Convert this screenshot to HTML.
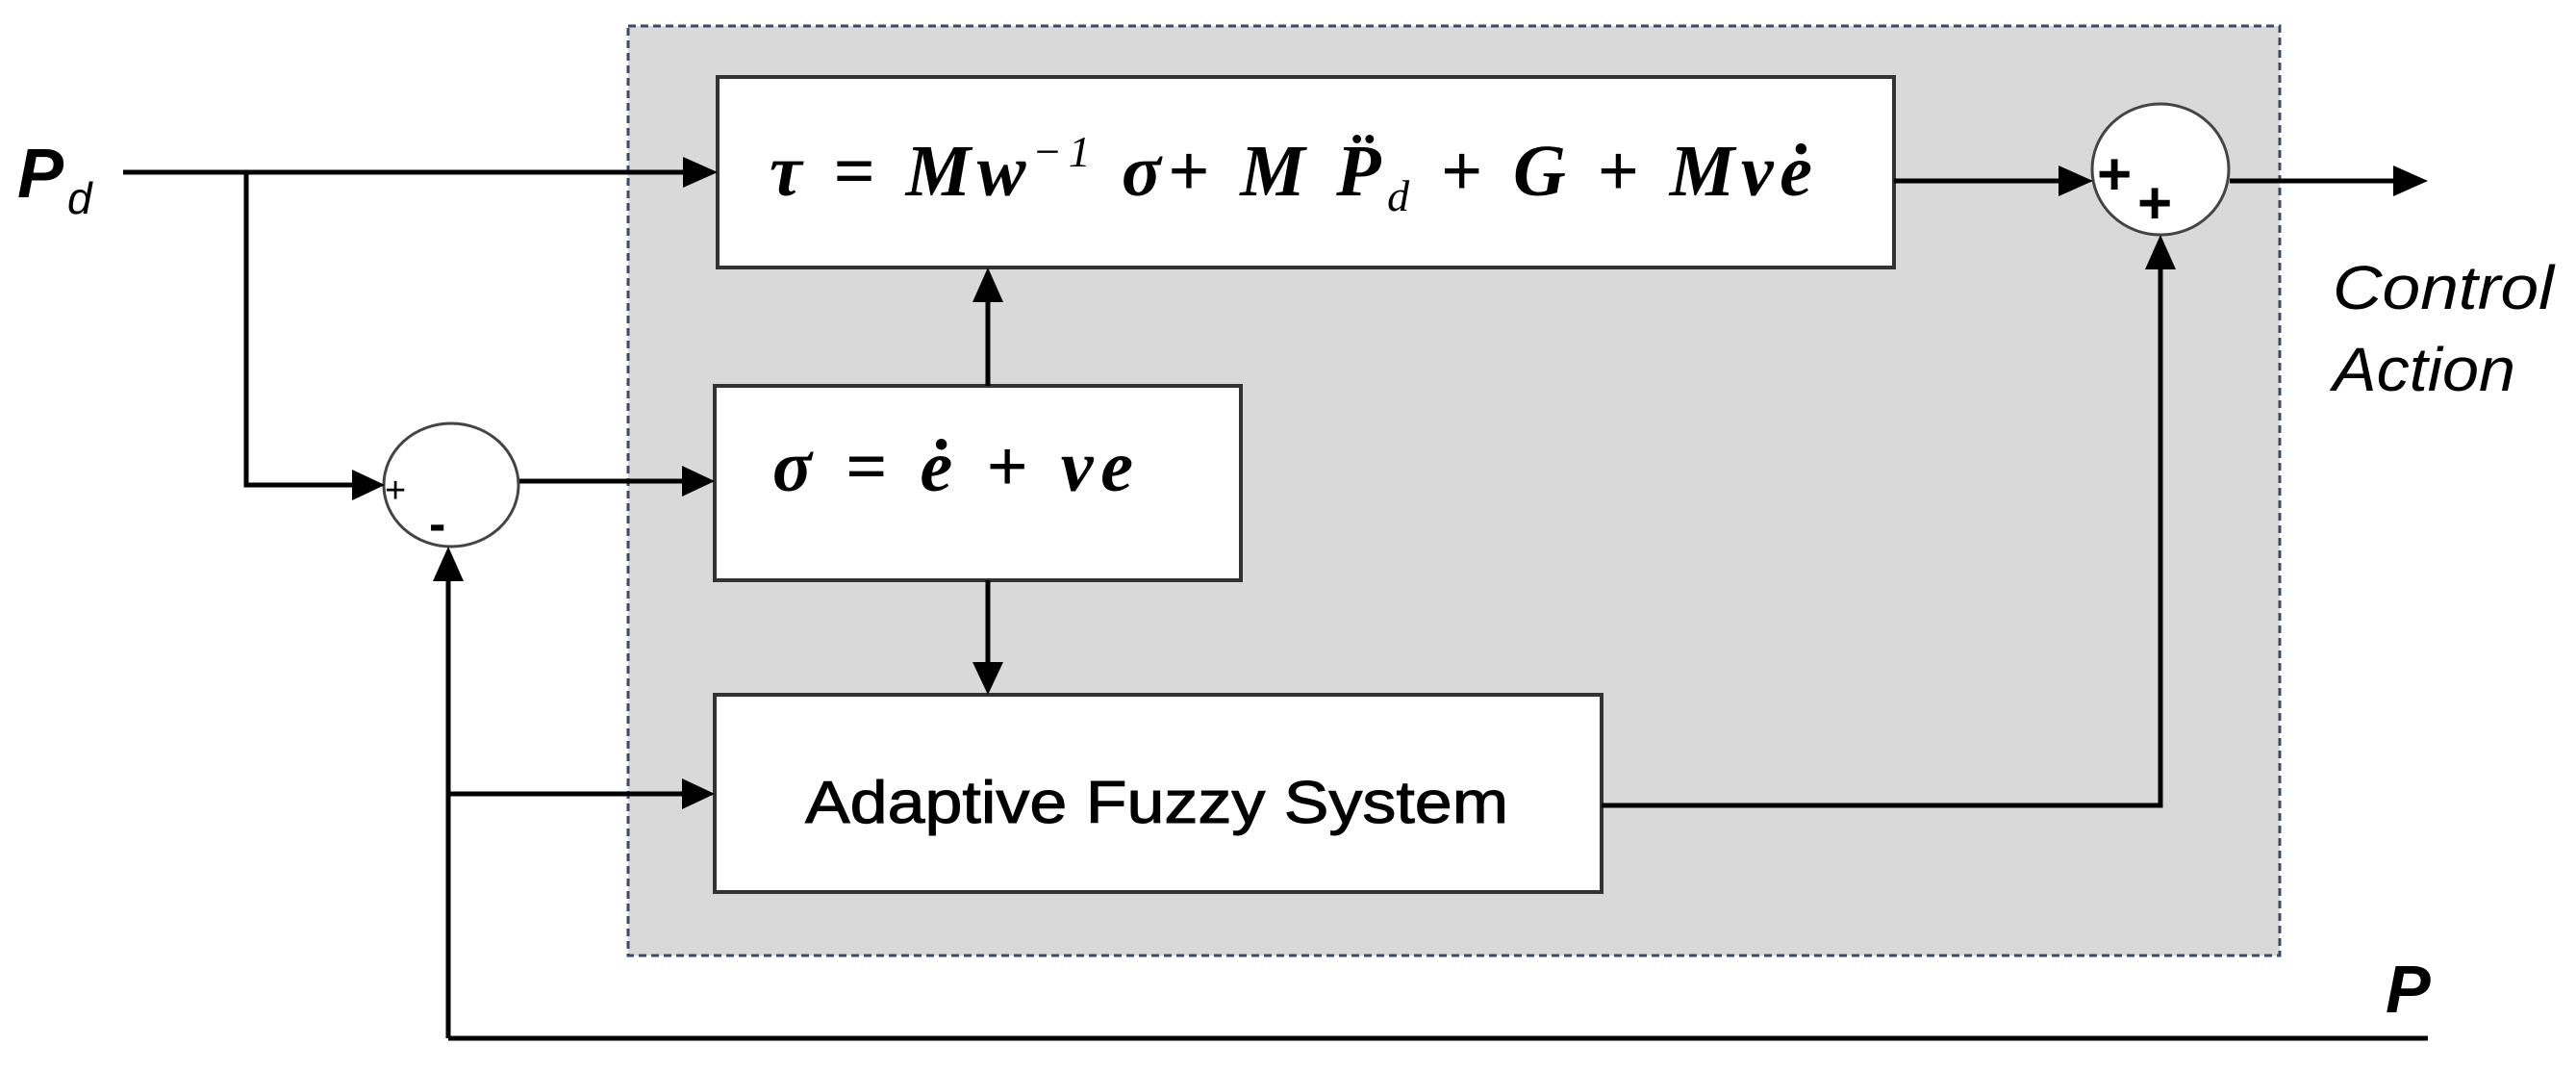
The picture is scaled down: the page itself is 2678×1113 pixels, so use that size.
<!DOCTYPE html>
<html><head><meta charset="utf-8"><style>
html,body{margin:0;padding:0;background:#fff;}
svg{display:block;}
</style></head><body>
<svg width="2678" height="1113" viewBox="0 0 2678 1113" xmlns="http://www.w3.org/2000/svg">
<rect x="653" y="27" width="1717" height="966" fill="#d9d9d9" stroke="#3b4a6b" stroke-width="3" stroke-dasharray="8,5"/>
<rect x="746" y="80" width="1223" height="198" fill="#fff" stroke="#333" stroke-width="4"/>
<rect x="743" y="401" width="547" height="202" fill="#fff" stroke="#333" stroke-width="4"/>
<rect x="743" y="722" width="922" height="205" fill="#fff" stroke="#333" stroke-width="4"/>
<ellipse cx="469" cy="504" rx="70" ry="64" fill="#fff" stroke="#444" stroke-width="3"/>
<ellipse cx="2246" cy="176" rx="71" ry="68" fill="#fff" stroke="#444" stroke-width="3"/>
<g stroke="#000" stroke-width="5" fill="none">
<path d="M128 179H712"/>
<path d="M256 179V504H368"/>
<path d="M540 500H710"/>
<path d="M1027 401V312"/>
<path d="M1027 603V690"/>
<path d="M466 1079V602"/>
<path d="M466 825H710"/>
<path d="M2524 1079H466"/>
<path d="M1969 188H2142"/>
<path d="M1665 837H2246V278"/>
<path d="M2318 188H2490"/>
</g>
<g fill="#000">
<polygon points="746,179 710,163 710,195"/>
<polygon points="400,504 366,488 366,520"/>
<polygon points="743,500 709,484 709,516"/>
<polygon points="1027,278 1011,314 1043,314"/>
<polygon points="1027,722 1011,688 1043,688"/>
<polygon points="466,568 450,604 482,604"/>
<polygon points="743,825 709,809 709,841"/>
<polygon points="2176,188 2140,172 2140,204"/>
<polygon points="2246,244 2230,280 2262,280"/>
<polygon points="2524,188 2488,172 2488,204"/>
</g>
<g font-family="Liberation Sans, sans-serif">
<text x="18" y="205" font-size="72" font-weight="bold" font-style="italic">P</text>
<text x="70" y="222" font-size="46" font-style="italic">d</text>
<text x="400" y="522" font-size="38">+</text>
<text x="446" y="562" font-size="52" font-weight="bold">-</text>
<text x="2180" y="202" font-size="62" font-weight="bold">+</text>
<text x="2222" y="232" font-size="62" font-weight="bold">+</text>
<text x="2425" y="321" font-size="64" font-style="italic" textLength="230" lengthAdjust="spacingAndGlyphs">Control</text>
<text x="2425" y="406" font-size="64" font-style="italic" textLength="190" lengthAdjust="spacingAndGlyphs">Action</text>
<text x="2480" y="1052" font-size="70" font-weight="bold" font-style="italic">P</text>
<text x="837" y="855" font-size="62" textLength="731" lengthAdjust="spacingAndGlyphs" stroke="#000" stroke-width="1">Adaptive Fuzzy System</text>
</g>
<g font-family="Liberation Serif, serif" font-style="italic" font-weight="bold" font-size="76">
<text x="800" y="203" textLength="1084" lengthAdjust="spacing">τ = <tspan>Mw</tspan><tspan font-size="46" dy="-30" font-weight="normal">−1</tspan><tspan dy="30"> σ+ M </tspan><tspan>P̈</tspan><tspan font-size="46" dy="16" font-weight="normal">d</tspan><tspan dy="-16"> + G + Mvė</tspan></text>
<text x="803" y="510" textLength="375" lengthAdjust="spacing">σ = ė + νe</text>
</g>
</svg>
</body></html>
